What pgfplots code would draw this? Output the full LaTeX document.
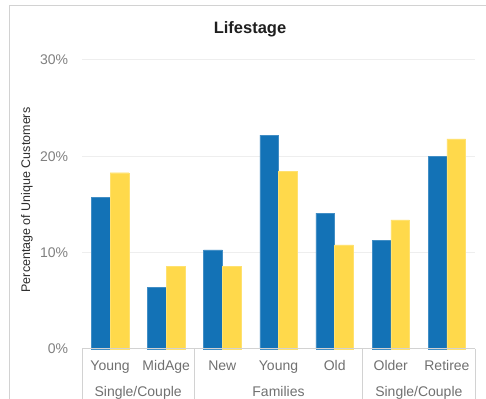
\documentclass[border=0pt]{standalone}
\usepackage{fontspec}
\setmainfont{Liberation Sans}
\usepackage{pgfplots}
\pgfplotsset{compat=1.18}

\definecolor{barblue}{HTML}{1372B6}
\definecolor{baryellow}{HTML}{FFD94B}
\definecolor{gridgray}{HTML}{EEEEEE}
\definecolor{framegray}{HTML}{D2D2D2}
\definecolor{ticktext}{HTML}{808080}
\definecolor{cattext}{HTML}{707070}

\begin{document}
\begin{tikzpicture}[x=1pt,y=1pt]
\path[use as bounding box] (0pt,0pt) rectangle (486pt,398pt);
% outer frame (top and left edges)
\draw[framegray, line width=1pt] (9pt,-5pt) -- (9pt,392.5pt) -- (490pt,392.5pt);
% title and y label
\node[anchor=base, font=\fontsize{16.5}{18}\selectfont\bfseries, text=black!88] at (250pt,364.5pt) {Lifestage};
\node[rotate=90, font=\fontsize{12.5}{14}\selectfont, text=black!82] at (27pt,198pt) {Percentage of Unique Customers};
\coordinate (plotorigin) at (82pt,49pt);
\begin{axis}[
  at={(plotorigin)}, anchor=south west,
  scale only axis, width=393pt, height=289pt,
  xmin=-0.5, xmax=6.5, ymin=0, ymax=30,
  clip=false,
  ybar=0pt, bar width=18.7pt,
  axis line style={draw=none},
  major tick length=0pt,
  ytick={10,20,30},
  extra y ticks={0},
  extra y tick style={grid=none},
  ymajorgrids, grid style={gridgray, line width=1pt},
  /pgf/number format/assume math mode=true,
  yticklabel={\pgfmathprintnumber{\tick}\%},
  yticklabel style={anchor=east, inner sep=0pt, xshift=-13.7pt,
    font=\fontsize{14}{16}\selectfont, text=ticktext},
  xtick={0,1,2,3,4,5,6},
  xticklabels={Young,MidAge,New,Young,Old,Older,Retiree},
  xticklabel style={anchor=base, inner sep=0pt, yshift=-21pt,
    font=\fontsize{14}{16}\selectfont, text=cattext},
]
\addplot[fill=barblue, draw=barblue!80!white, line width=0.4pt] coordinates {
  (0,15.75) (1,6.4) (2,10.3) (3,22.2) (4,14.1) (5,11.3) (6,20.0)};
\addplot[fill=baryellow, draw=baryellow!80!white, line width=0.4pt] coordinates {
  (0,18.3) (1,8.6) (2,8.6) (3,18.45) (4,10.8) (5,13.4) (6,21.8)};

% category table below the bars
\draw[framegray, line width=1pt] (axis cs:-0.5,0) -- (axis cs:6.5,0);
\draw[framegray, line width=1pt] (axis cs:-0.5,0) -- ++(0pt,-60pt);
\draw[framegray, line width=1pt] (axis cs:1.5,0) -- ++(0pt,-60pt);
\draw[framegray, line width=1pt] (axis cs:4.5,0) -- ++(0pt,-60pt);
\draw[framegray, line width=1pt] (axis cs:6.5,0) -- ++(0pt,-60pt);
\node[anchor=base, inner sep=0pt, font=\fontsize{14}{16}\selectfont, text=cattext]
  at ([yshift=-47pt]axis cs:0.5,0) {Single/Couple};
\node[anchor=base, inner sep=0pt, font=\fontsize{14}{16}\selectfont, text=cattext]
  at ([yshift=-47pt]axis cs:3,0) {Families};
\node[anchor=base, inner sep=0pt, font=\fontsize{14}{16}\selectfont, text=cattext]
  at ([yshift=-47pt]axis cs:5.5,0) {Single/Couple};
\end{axis}
\end{tikzpicture}
\end{document}
